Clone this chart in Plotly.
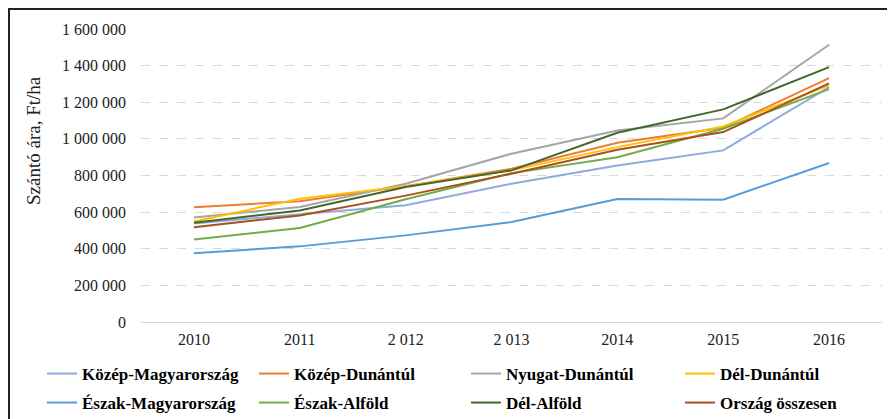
import plotly.graph_objects as go

# Years on the category axis (as printed in the original)
years = ["2010", "2011", "2 012", "2 013", "2014", "2015", "2016"]

# Arable land price, Ft/ha
kozep_magyarorszag = [538000, 588000, 638000, 755000, 855000, 937000, 1283000]
kozep_dunantul = [626000, 660000, 742000, 837000, 979000, 1061000, 1332000]
nyugat_dunantul = [571000, 628000, 755000, 919000, 1046000, 1112000, 1514000]
del_dunantul = [549000, 673000, 742000, 828000, 955000, 1068000, 1292000]
eszak_magyarorszag = [376000, 413000, 473000, 546000, 671000, 668000, 868000]
eszak_alfold = [451000, 513000, 670000, 813000, 900000, 1055000, 1272000]
del_alfold = [542000, 609000, 737000, 828000, 1033000, 1161000, 1392000]
orszag_osszesen = [517000, 582000, 690000, 810000, 941000, 1037000, 1303000]

series = [
    ("Közép-Magyarország", kozep_magyarorszag, "#8FAADC"),
    ("Közép-Dunántúl", kozep_dunantul, "#ED7D31"),
    ("Nyugat-Dunántúl", nyugat_dunantul, "#A5A5A5"),
    ("Dél-Dunántúl", del_dunantul, "#FFC000"),
    ("Észak-Magyarország", eszak_magyarorszag, "#5B9BD5"),
    ("Észak-Alföld", eszak_alfold, "#70AD47"),
    ("Dél-Alföld", del_alfold, "#44672C"),
    ("Ország összesen", orszag_osszesen, "#A9501C"),
]

FONT = "Liberation Serif"
# the page body has an 8px margin, so the figure is a bit smaller than the window
W, H = 887, 411
L, R, T, B = 133, 13, 21, 97
PW, PH = W - L - R, H - T - B


def px_x(x):
    return (x - L) / PW


def px_y(y):
    return (H - B - y) / PH


fig = go.Figure()
legends = {}
# legend laid out as 2 rows x 4 columns, one small legend per entry
col_x = [34, 246, 458, 672]
row_y = [366, 395]
for i, (name, vals, color) in enumerate(series):
    key = "legend" if i == 0 else "legend%d" % (i + 1)
    fig.add_trace(go.Scatter(
        x=years, y=vals, mode="lines", name=name,
        line=dict(color=color, width=2),
        legend=key,
    ))
    legends[key] = dict(
        xref="paper", yref="paper",
        x=px_x(col_x[i % 4]), y=px_y(row_y[i // 4]),
        xanchor="left", yanchor="middle",
        font=dict(family=FONT, size=17, color="#000000", weight="bold"),
        bgcolor="rgba(0,0,0,0)",
    )

fig.update_layout(
    width=W, height=H,
    margin=dict(l=L, r=R, t=T, b=B, autoexpand=False),
    paper_bgcolor="white", plot_bgcolor="white",
    separators=", ",
    font=dict(family=FONT, size=16, color="#222222"),
    showlegend=True,
    xaxis=dict(
        type="category", range=[-0.5, 6.5], automargin=False,
        showgrid=False, showline=False, zeroline=False,
        ticks="", ticklabelstandoff=6,
        tickfont=dict(family=FONT, size=16, color="#222222"),
    ),
    yaxis=dict(
        range=[0, 1600000], dtick=200000, tickformat=",d", automargin=False,
        showgrid=True, gridcolor="#D9D9D9", griddash="dash", gridwidth=1,
        zeroline=True, zerolinecolor="#D9D9D9", zerolinewidth=1,
        showline=False, ticks="", ticklabelstandoff=14,
        tickfont=dict(family=FONT, size=16, color="#222222"),
    ),
    annotations=[dict(
        text="Szántó ára, Ft/ha", textangle=-90,
        xref="paper", yref="paper", x=px_x(25), y=px_y(133),
        xanchor="center", yanchor="middle", showarrow=False,
        font=dict(family=FONT, size=19, color="#222222"),
    )],
    shapes=[
        dict(type="line", xref="paper", yref="paper",
             x0=px_x(0), x1=px_x(W), y0=px_y(1), y1=px_y(1),
             line=dict(color="#222222", width=2)),
        dict(type="line", xref="paper", yref="paper",
             x0=px_x(1), x1=px_x(1), y0=px_y(1), y1=px_y(H),
             line=dict(color="#222222", width=2)),
    ],
    **legends,
)

fig.write_html("out.html")
